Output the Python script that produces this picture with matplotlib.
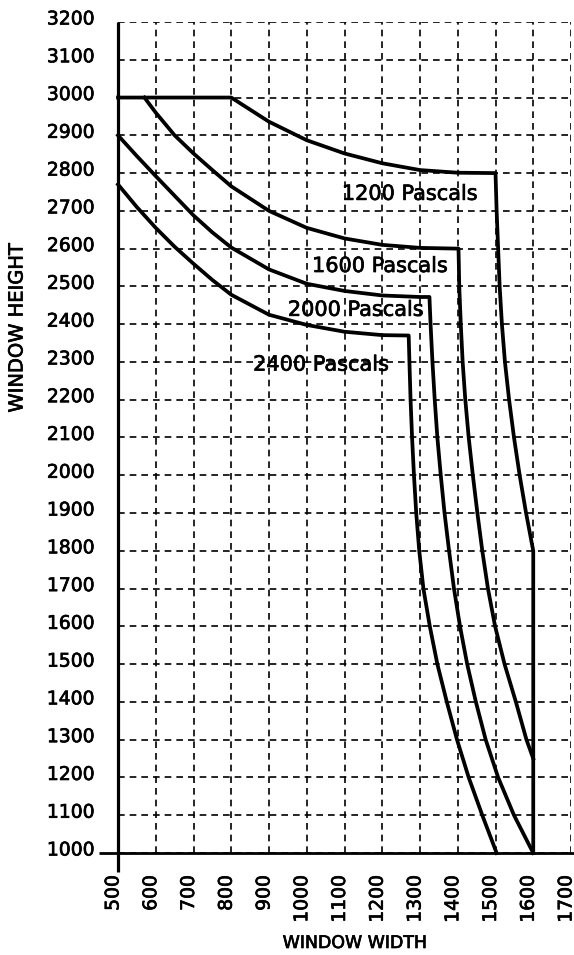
import numpy as np
import matplotlib.pyplot as plt
import matplotlib.patheffects as pe
from matplotlib.transforms import ScaledTranslation

plt.rcParams['font.family'] = ['DejaVu Sans']

# curves (window width, window height)
w_1200 = [500, 800, 900, 1000, 1100, 1200, 1300, 1400, 1500,
          1503, 1507, 1511, 1517, 1525, 1536, 1549, 1564, 1581, 1600, 1600]
h_1200 = [3000, 3000, 2936, 2887, 2852, 2826, 2808, 2801, 2800,
          2700, 2600, 2500, 2400, 2300, 2200, 2100, 2000, 1900, 1800, 1000]

w_1600 = [570, 600, 650, 700, 750, 800, 900, 1000, 1100, 1200, 1300, 1402,
          1404, 1408, 1413, 1420, 1429, 1440, 1452, 1465, 1480, 1499,
          1524, 1554, 1582, 1600]
h_1600 = [3000, 2960, 2900, 2852, 2808, 2765, 2700, 2655, 2627, 2610, 2602, 2600,
          2500, 2400, 2300, 2200, 2100, 2000, 1900, 1800, 1700, 1600,
          1500, 1400, 1300, 1250]

w_2000 = [500, 550, 600, 650, 700, 750, 800, 900, 1000, 1100, 1200, 1300, 1325,
          1328, 1333, 1339, 1346, 1355, 1365, 1377, 1390, 1406, 1425, 1448,
          1474, 1507, 1549, 1600]
h_2000 = [2900, 2845, 2792, 2740, 2688, 2643, 2603, 2545, 2507, 2488, 2476, 2472, 2472,
          2400, 2300, 2200, 2100, 2000, 1900, 1800, 1700, 1600, 1500, 1400,
          1300, 1200, 1100, 1000]

w_2400 = [500, 550, 600, 650, 700, 750, 800, 900, 1000, 1100, 1200, 1270,
          1272, 1275, 1279, 1284, 1290, 1298, 1309, 1326, 1346, 1371, 1398,
          1429, 1465, 1503]
h_2400 = [2770, 2710, 2655, 2605, 2560, 2517, 2478, 2425, 2398, 2380, 2371, 2370,
          2300, 2200, 2100, 2000, 1900, 1800, 1700, 1600, 1500, 1400, 1300,
          1200, 1100, 1000]

labels = ["1200 Pascals", "1600 Pascals", "2000 Pascals", "2400 Pascals"]
label_x = [1093, 1014, 950, 858]
label_y = [2745, 2554, 2438, 2293]

x_ticks = np.arange(500, 1701, 100)
y_ticks = np.arange(1000, 3201, 100)

bold_fx = [pe.withStroke(linewidth=0.5, foreground='black')]

fig = plt.figure(figsize=(5.74, 9.55), dpi=100)
ax = fig.add_axes([118 / 574, 102 / 955, 453 / 574, 831 / 955])

ax.set_xlim(500, 1700)
ax.set_ylim(1000, 3200)
ax.set_xticks(x_ticks)
ax.set_yticks(y_ticks)
ax.set_xticklabels([str(v) for v in x_ticks], rotation=90)
ax.tick_params(length=0, labelsize=13.5)
ax.tick_params(axis='x', pad=16)
ax.tick_params(axis='y', pad=17)
for s in ax.spines.values():
    s.set_visible(False)

ax.grid(True, color='black', linestyle=(0, (4, 3)), linewidth=1.2)
ax.set_axisbelow(True)

# heavy axis lines that stick out past the corner
ax.plot([500, 500], [950, 3200], color='black', lw=2.3, clip_on=False, solid_capstyle='butt')
ax.plot([449, 1710], [1000, 1000], color='black', lw=2.0, clip_on=False, solid_capstyle='butt')

for w, h in [(w_1200, h_1200), (w_1600, h_1600), (w_2000, h_2000), (w_2400, h_2400)]:
    ax.plot(w, h, color='black', lw=2.7, clip_on=False, solid_joinstyle='round')

for t, x, y in zip(labels, label_x, label_y):
    ax.text(x, y, t, fontsize=15, ha='left', va='center', path_effects=bold_fx)

for lab in ax.get_yticklabels():
    lab.set_transform(lab.get_transform() + ScaledTranslation(0, 0.05, fig.dpi_scale_trans))
    lab.set_path_effects(bold_fx)
for lab in ax.get_xticklabels():
    lab.set_transform(lab.get_transform() + ScaledTranslation(-0.05, 0, fig.dpi_scale_trans))
    lab.set_path_effects(bold_fx)

fig.text(355 / 574, 12 / 955, "WINDOW WIDTH", fontsize=12.5, ha='center', va='center',
         path_effects=bold_fx)
fig.text(17 / 574, (955 - 328) / 955, "WINDOW HEIGHT", fontsize=14,
         ha='center', va='center', rotation=90, path_effects=bold_fx)

fig.savefig("out.png")
